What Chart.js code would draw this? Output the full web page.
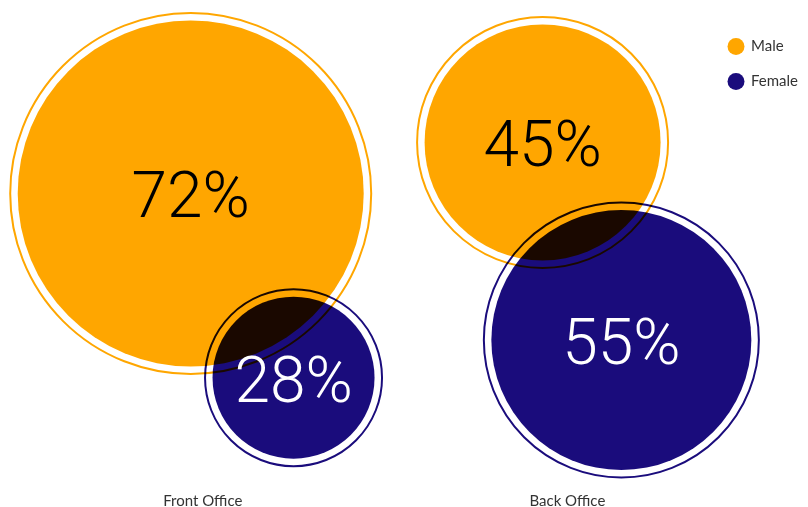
<!DOCTYPE html>
<html lang="en">
<head>
    <meta charset="UTF-8">
    <title>Front vs Back Office Gender Split</title>
    <script src="https://cdn.jsdelivr.net/npm/chart.js"></script>
    <style>
        body {
            margin: 0;
            padding: 0;
            background-color: #fff;
        }
        .chart-box {
            width: 808px;
            height: 507px;
        }
    </style>
</head>
<body>
    <div class="chart-box">
        <canvas id="genderChart"></canvas>
    </div>

    <script>
        // categories and series
        const offices = ['Front Office', 'Back Office'];
        const officeTicks = [1, 2];
        const genders = ['Male', 'Female'];

        // share of staff per office (%)
        const maleShare = [72, 45];
        const femaleShare = [28, 55];

        // bubble placement (x on office axis, y on 0-100 scale) and bubble radius
        const maleX = [0.967, 1.932];
        const maleY = [62.4, 73.4];
        const maleR = [173, 118];
        const femaleX = [1.249, 2.148];
        const femaleY = [22.7, 30.8];
        const femaleR = [81, 130];

        const ORANGE = '#ffa600';
        const NAVY = '#1a0c7c';
        const RING_GAP = 7.5;

        function points(xs, ys, rs, shares) {
            return xs.map((x, i) => ({ x: x, y: ys[i], r: rs[i], share: shares[i] }));
        }

        // overlapping bubbles multiply, plus a thin outer ring and the % label
        const bubbleStyle = {
            id: 'bubbleStyle',
            beforeDatasetsDraw(chart) {
                chart.ctx.save();
                chart.ctx.globalCompositeOperation = 'multiply';
            },
            afterDatasetsDraw(chart) {
                const ctx = chart.ctx;
                chart.data.datasets.forEach((ds, di) => {
                    chart.getDatasetMeta(di).data.forEach(el => {
                        ctx.beginPath();
                        ctx.arc(el.x, el.y, el.options.radius + RING_GAP, 0, Math.PI * 2);
                        ctx.lineWidth = 2;
                        ctx.strokeStyle = ds.backgroundColor;
                        ctx.stroke();
                    });
                });
                ctx.restore();

                ctx.save();
                ctx.font = '300 64px Roboto, "Noto Sans", sans-serif';
                ctx.textAlign = 'center';
                ctx.textBaseline = 'middle';
                chart.data.datasets.forEach((ds, di) => {
                    ctx.fillStyle = ds.labelColor;
                    chart.getDatasetMeta(di).data.forEach((el, i) => {
                        ctx.fillText(ds.data[i].share + '%', el.x, el.y + 8);
                    });
                });
                ctx.restore();
            }
        };

        new Chart(document.getElementById('genderChart').getContext('2d'), {
            type: 'bubble',
            data: {
                datasets: [{
                    label: genders[0],
                    data: points(maleX, maleY, maleR, maleShare),
                    backgroundColor: ORANGE,
                    borderWidth: 0,
                    labelColor: '#000',
                    clip: false
                }, {
                    label: genders[1],
                    data: points(femaleX, femaleY, femaleR, femaleShare),
                    backgroundColor: NAVY,
                    borderWidth: 0,
                    labelColor: '#fff',
                    clip: false
                }]
            },
            options: {
                responsive: true,
                maintainAspectRatio: false,
                animation: false,
                events: [],
                layout: {
                    autoPadding: false,
                    padding: { top: 19, right: 0, bottom: -12, left: 0 }
                },
                scales: {
                    x: {
                        type: 'linear',
                        min: 0.444,
                        max: 2.387,
                        grid: { display: false, drawTicks: false },
                        border: { display: false },
                        afterBuildTicks: axis => {
                            axis.ticks = officeTicks.map(v => ({ value: v }));
                        },
                        ticks: {
                            padding: 9,
                            color: '#333',
                            font: { family: 'Lato, "Noto Sans", sans-serif', size: 15 },
                            callback: value => offices[officeTicks.indexOf(value)]
                        }
                    },
                    y: {
                        display: false,
                        min: 0,
                        max: 100
                    }
                },
                plugins: {
                    tooltip: { enabled: false },
                    legend: {
                        position: 'right',
                        align: 'start',
                        labels: {
                            usePointStyle: true,
                            pointStyle: 'circle',
                            boxWidth: 15,
                            boxHeight: 12,
                            padding: 20,
                            color: '#333',
                            font: { family: 'Lato, "Noto Sans", sans-serif', size: 15 }
                        }
                    }
                }
            },
            plugins: [bubbleStyle]
        });
    </script>
</body>
</html>
